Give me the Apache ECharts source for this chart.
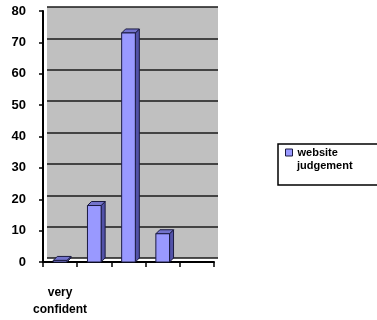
<!DOCTYPE html>
<html>
<head>
<meta charset="utf-8">
<script src="https://cdn.jsdelivr.net/npm/echarts@6/dist/echarts.min.js"></script>
<style>
	html, body { margin: 0; padding: 0; background: #fff; }
	#main { width: 377px; height: 320px; }
</style>
</head>
<body>
<div id="main"></div>
<script>
const categories = ['very\nconfident', '', '', '', ''];
const judgement = [0.5, 18, 73, 9, null];
const yTicks = [0, 10, 20, 30, 40, 50, 60, 70, 80];

const myChart = echarts.init(document.getElementById('main'), null, { renderer: 'canvas' });

const FONT = '"Liberation Sans", Arial, sans-serif';
const DEPTH = 4;

// 3d-ish bar: front face, side and top
function renderBar(params, api) {
	const v = api.value(1);
	if (v == null || isNaN(v)) return;
	const top = api.coord([api.value(0), v]);
	const base = api.coord([api.value(0), 0]);
	const w = api.size([1, 0])[0] * 0.4;
	const x0 = top[0] - w / 2, x1 = top[0] + w / 2;
	const st = { stroke: '#1a1a40', lineWidth: 1 };
	return {
		type: 'group',
		children: [
			{ type: 'polygon', shape: { points: [[x1, top[1]], [x1 + DEPTH, top[1] - DEPTH], [x1 + DEPTH, base[1] - DEPTH], [x1, base[1]]] },
				style: Object.assign({ fill: '#5252a8' }, st) },
			{ type: 'polygon', shape: { points: [[x0, top[1]], [x0 + DEPTH, top[1] - DEPTH], [x1 + DEPTH, top[1] - DEPTH], [x1, top[1]]] },
				style: Object.assign({ fill: '#7373cc' }, st) },
			{ type: 'rect', shape: { x: x0, y: top[1], width: w, height: base[1] - top[1] },
				style: Object.assign({ fill: '#9999ff' }, st) }
		]
	};
}

const option = {
	animation: false,
	textStyle: { fontFamily: FONT },
	grid: [
		// front: axes and bars
		{ left: 43, top: 11, width: 171, height: 251 },
		// back wall with gridlines
		{ left: 47, top: 7, width: 171, height: 251, show: true, backgroundColor: '#c0c0c0', borderWidth: 0 }
	],
	xAxis: [
		{
			gridIndex: 0, type: 'category', data: categories,
			axisLine: { lineStyle: { color: '#000', width: 2 } },
			axisTick: { show: true, length: 5, lineStyle: { color: '#000', width: 1.5 } },
			axisLabel: { margin: 22, color: '#000', fontWeight: 'bold', fontSize: 12, lineHeight: 17, fontFamily: FONT, interval: 0 }
		},
		{
			gridIndex: 1, type: 'category', data: categories,
			axisLine: { show: false }, axisTick: { show: false }, axisLabel: { show: false }
		}
	],
	yAxis: [
		{
			gridIndex: 0, type: 'value', min: 0, max: 80, interval: 10,
			axisLine: { show: true, lineStyle: { color: '#000', width: 2 } },
			axisTick: { show: true, length: 4, lineStyle: { color: '#000', width: 1.5 } },
			splitLine: { show: false },
			axisLabel: {
				color: '#000', fontWeight: 'bold', fontSize: 13, margin: 17, fontFamily: FONT,
				formatter: v => yTicks.includes(v) ? String(v) : ''
			}
		},
		{
			gridIndex: 1, type: 'value', min: 0, max: 80, interval: 10,
			axisLine: { show: false }, axisTick: { show: false }, axisLabel: { show: false },
			splitLine: { show: true, lineStyle: { color: '#1a1a1a', width: 1.5 } }
		}
	],
	legend: {
		left: 281, top: 143,
		icon: 'rect', itemWidth: 7, itemHeight: 7, itemGap: 4,
		padding: [4, 4, 4, 4],
		data: ['website judgement'],
		formatter: () => 'website',
		itemStyle: { borderColor: '#1a1a40', borderWidth: 1 },
		textStyle: { color: '#000', fontWeight: 'bold', fontSize: 11, fontFamily: FONT }
	},
	graphic: [
		{ type: 'rect', z: -1, shape: { x: 278, y: 144, width: 110, height: 41 },
			style: { fill: '#fff', stroke: '#000', lineWidth: 1.5 } },
		// second line of the legend entry
		{ type: 'text', left: 297, top: 160,
			style: { text: 'judgement', fill: '#000', font: 'bold 11px ' + FONT } }
	],
	series: [
		{
			name: 'website judgement', type: 'custom',
			xAxisIndex: 0, yAxisIndex: 0,
			itemStyle: { color: '#9999ff' },
			renderItem: renderBar,
			data: judgement.map((v, i) => [i, v]),
			z: 5
		}
	]
};

myChart.setOption(option);
</script>
</body>
</html>
